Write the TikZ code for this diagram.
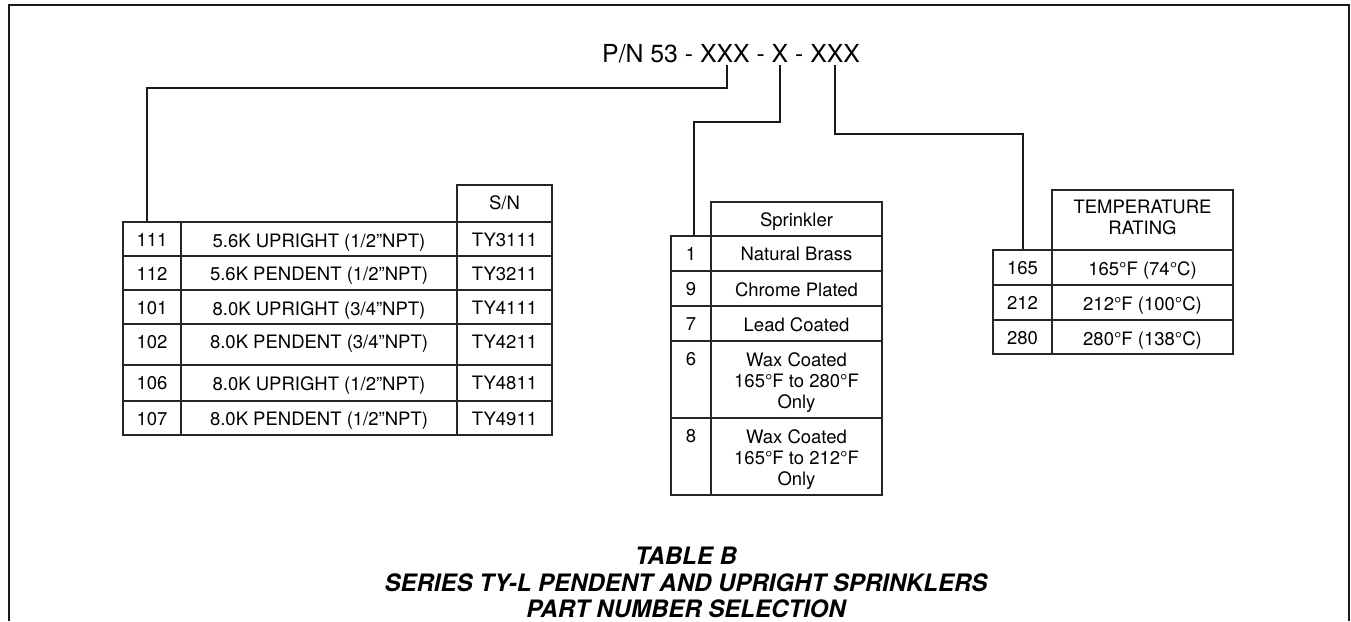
\documentclass[tikz,border=0pt]{standalone}
\usepackage{fontspec}
\setmainfont{TeX Gyre Heros}
\begin{document}
\begin{tikzpicture}[x=1pt, y=-1pt, line join=miter,
    frame/.style={line width=2.6pt, draw=black!90},
    tabline/.style={line width=1.4pt, draw=black!85},
    link/.style={line width=1.5pt, draw=black!90},
    celltext/.style={anchor=north, inner sep=0pt, align=center, font=\fontsize{18.5}{21}\selectfont}]
    \useasboundingbox (0,0) rectangle (1351,621);

    % 1. Outer frame, open at the bottom
    \draw[frame] (9,621) -- (9,5) -- (1349,5) -- (1349,621);

    % 2. Part number and the points under each field
    \node[anchor=base west, inner sep=0pt, font=\fontsize{24.8}{28}\selectfont] (pn) at (602,62) {P/N 53 - XXX - X - XXX};
    \coordinate (fieldA) at (727,65);
    \coordinate (fieldB) at (780,65);
    \coordinate (fieldC) at (835,65);
    \coordinate (topA) at (147,222); % top of the model table
    \coordinate (topB) at (694,236); % top of the finish table
    \coordinate (topC) at (1023,250); % top of the temperature table

    % 3. Leaders from the fields down to the tables
    \draw[link] (fieldA) -- (727,88) -| (topA);
    \draw[link] (fieldB) -- (780,122) -| (topB);
    \draw[link] (fieldC) -- (835,134) -| (topC);

    % 4. Model table
    \draw[tabline] (457,185) rectangle (552,222);
    \node[celltext] (snhead) at (504.5,195.5) {S/N};
    \foreach \code/\desc/\sn/\ytop/\ybot in {
        111/{5.6K UPRIGHT (1/2”NPT)}/TY3111/222/256,
        112/{5.6K PENDENT (1/2”NPT)}/TY3211/256/290,
        101/{8.0K UPRIGHT (3/4”NPT)}/TY4111/290/324,
        102/{8.0K PENDENT (3/4”NPT)}/TY4211/324/365,
        106/{8.0K UPRIGHT (1/2”NPT)}/TY4811/365/401,
        107/{8.0K PENDENT (1/2”NPT)}/TY4911/401/435} {
        \draw[tabline] (123,\ytop) rectangle (181,\ybot);
        \draw[tabline] (181,\ytop) rectangle (457,\ybot);
        \draw[tabline] (457,\ytop) rectangle (552,\ybot);
        \node[celltext] (code\code) at (152,{\ytop+11}) {\code};
        \node[celltext] (desc\code) at (319,{\ytop+11}) {\desc};
        \node[celltext] (sn\code) at (504.5,{\ytop+11}) {\sn};
    }

    % 5. Finish table
    \draw[tabline] (711,202) rectangle (882,236);
    \node[celltext] (finhead) at (796.5,212) {Sprinkler};
    \foreach \code/\desc/\ytop/\ybot in {
        1/Natural Brass/236/271,
        9/Chrome Plated/271/306,
        7/Lead Coated/306/341,
        6/{Wax Coated\\165°F to 280°F\\Only}/341/418,
        8/{Wax Coated\\165°F to 212°F\\Only}/418/495} {
        \draw[tabline] (671,\ytop) rectangle (711,\ybot);
        \draw[tabline] (711,\ytop) rectangle (882,\ybot);
        \node[celltext] (fin\code) at (691,{\ytop+11}) {\code};
        \node[celltext] (findesc\code) at (796.5,{\ytop+11}) {\desc};
    }

    % 6. Temperature table
    \draw[tabline] (1052,190) rectangle (1233,250);
    \node[celltext] (temphead) at (1142.5,200) {TEMPERATURE\\RATING};
    \foreach \code/\desc/\ytop/\ybot in {
        165/165°F (74°C)/250/285,
        212/212°F (100°C)/285/320,
        280/280°F (138°C)/320/354} {
        \draw[tabline] (993,\ytop) rectangle (1052,\ybot);
        \draw[tabline] (1052,\ytop) rectangle (1233,\ybot);
        \node[celltext] (temp\code) at (1022.5,{\ytop+11}) {\code};
        \node[celltext] (tempdesc\code) at (1142.5,{\ytop+11}) {\desc};
    }

    % 7. Caption
    \node[anchor=north, inner sep=0pt, align=center, font=\bfseries\itshape\fontsize{24}{26.5}\selectfont] (caption) at (686,547) {TABLE B\\SERIES TY-L PENDENT AND UPRIGHT SPRINKLERS\\PART NUMBER SELECTION};
\end{tikzpicture}
\end{document}
